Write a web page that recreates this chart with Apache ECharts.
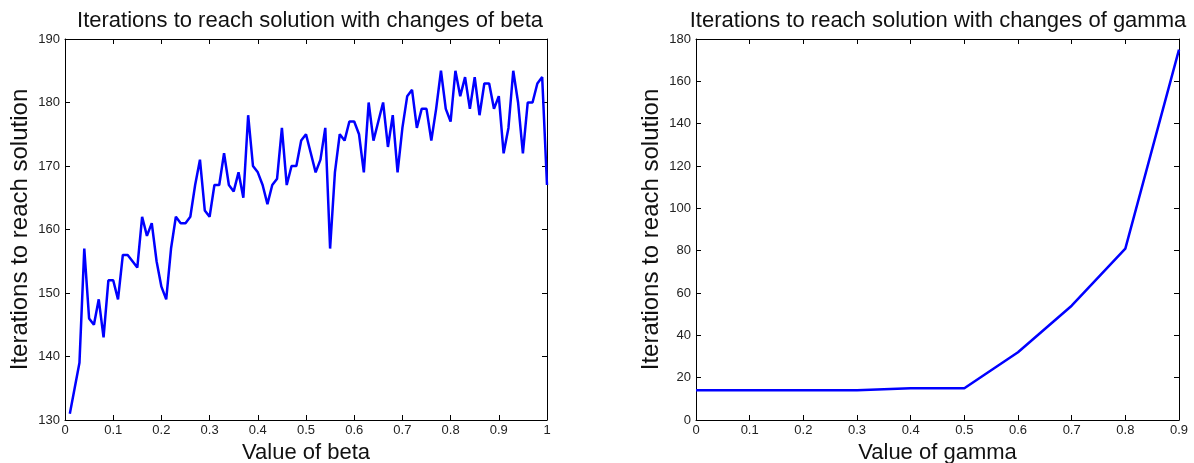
<!DOCTYPE html>
<html>
<head>
<meta charset="utf-8">
<script src="https://cdn.jsdelivr.net/npm/echarts@6/dist/echarts.min.js"></script>
<style>
  html, body { margin: 0; padding: 0; background: #fff; }
  #chart { width: 1194px; height: 463px; }
</style>
</head>
<body>
<div id="chart"></div>
<script>
// beta sweep
const betaValues = [
  0.01, 0.02, 0.03, 0.04, 0.05, 0.06, 0.07, 0.08, 0.09, 0.10,
  0.11, 0.12, 0.13, 0.14, 0.15, 0.16, 0.17, 0.18, 0.19, 0.20,
  0.21, 0.22, 0.23, 0.24, 0.25, 0.26, 0.27, 0.28, 0.29, 0.30,
  0.31, 0.32, 0.33, 0.34, 0.35, 0.36, 0.37, 0.38, 0.39, 0.40,
  0.41, 0.42, 0.43, 0.44, 0.45, 0.46, 0.47, 0.48, 0.49, 0.50,
  0.51, 0.52, 0.53, 0.54, 0.55, 0.56, 0.57, 0.58, 0.59, 0.60,
  0.61, 0.62, 0.63, 0.64, 0.65, 0.66, 0.67, 0.68, 0.69, 0.70,
  0.71, 0.72, 0.73, 0.74, 0.75, 0.76, 0.77, 0.78, 0.79, 0.80,
  0.81, 0.82, 0.83, 0.84, 0.85, 0.86, 0.87, 0.88, 0.89, 0.90,
  0.91, 0.92, 0.93, 0.94, 0.95, 0.96, 0.97, 0.98, 0.99, 1.00
];
const betaIterations = [
  131, 135, 139, 157, 146, 145, 149, 143, 152, 152,
  149, 156, 156, 155, 154, 162, 159, 161, 155, 151,
  149, 157, 162, 161, 161, 162, 167, 171, 163, 162,
  167, 167, 172, 167, 166, 169, 165, 178, 170, 169,
  167, 164, 167, 168, 176, 167, 170, 170, 174, 175,
  172, 169, 171, 176, 157, 169, 175, 174, 177, 177,
  175, 169, 180, 174, 177, 180, 173, 178, 169, 176,
  181, 182, 176, 179, 179, 174, 179, 185, 179, 177,
  185, 181, 184, 179, 184, 178, 183, 183, 179, 181,
  172, 176, 185, 180, 172, 180, 180, 183, 184, 167
];

// gamma sweep
const gammaValues = [0, 0.1, 0.2, 0.3, 0.4, 0.5, 0.6, 0.7, 0.8, 0.9];
const gammaIterations = [14, 14, 14, 14, 15, 15, 32, 54, 81, 175];

const fontFamily = '"Liberation Sans", Arial, sans-serif';
const black = '#000';

function pairs(xs, ys) {
  return xs.map((x, i) => [x, ys[i]]);
}

function tickLabel(v) {
  return String(Math.round(v * 10) / 10);
}

// bottom/left axes carry labels, top/right are mirrored boxes with inside ticks
function xAxes(gridIndex, max, name) {
  const base = {
    type: 'value',
    gridIndex: gridIndex,
    min: 0,
    max: max,
    interval: 0.1,
    splitLine: { show: false },
    axisLine: { show: true, onZero: false, lineStyle: { color: black, width: 1 } },
    axisTick: { show: true, inside: true, length: 5, lineStyle: { color: black } }
  };
  return [
    Object.assign({}, base, {
      position: 'bottom',
      name: name,
      nameLocation: 'middle',
      nameGap: 22,
      nameTextStyle: { fontFamily: fontFamily, fontSize: 22, color: '#111' },
      axisLabel: {
        fontFamily: fontFamily, fontSize: 13, color: '#222', margin: 4,
        formatter: tickLabel
      }
    }),
    Object.assign({}, base, { position: 'top', axisLabel: { show: false } })
  ];
}

function yAxes(gridIndex, min, max, step, nameGap) {
  const base = {
    type: 'value',
    gridIndex: gridIndex,
    min: min,
    max: max,
    interval: step,
    splitLine: { show: false },
    axisLine: { show: true, onZero: false, lineStyle: { color: black, width: 1 } },
    axisTick: { show: true, inside: true, length: 5, lineStyle: { color: black } }
  };
  return [
    Object.assign({}, base, {
      position: 'left',
      name: 'Iterations to reach solution',
      nameLocation: 'middle',
      nameGap: nameGap,
      nameTextStyle: { fontFamily: fontFamily, fontSize: 24, color: '#111' },
      axisLabel: { fontFamily: fontFamily, fontSize: 13, color: '#222', margin: 5 }
    }),
    Object.assign({}, base, { position: 'right', axisLabel: { show: false } })
  ];
}

const chart = echarts.init(document.getElementById('chart'));
chart.setOption({
  backgroundColor: '#fff',
  animation: false,
  title: [
    {
      text: 'Iterations to reach solution with changes of beta',
      left: 305, top: 5, textAlign: 'center',
      textStyle: { fontFamily: fontFamily, fontSize: 22, fontWeight: 'normal', color: '#111' }
    },
    {
      text: 'Iterations to reach solution with changes of gamma',
      left: 933, top: 5, textAlign: 'center',
      textStyle: { fontFamily: fontFamily, fontSize: 22, fontWeight: 'normal', color: '#111' }
    }
  ],
  grid: [
    { left: 65, right: 647, top: 39, bottom: 43, containLabel: false, outerBoundsMode: 'none' },
    { left: 696, right: 15, top: 39, bottom: 43, containLabel: false, outerBoundsMode: 'none' }
  ],
  xAxis: [].concat(xAxes(0, 1, 'Value of beta'), xAxes(1, 0.9, 'Value of gamma')),
  yAxis: [].concat(yAxes(0, 130, 190, 10, 33), yAxes(1, 0, 180, 20, 33)),
  series: [
    {
      type: 'line',
      xAxisIndex: 0,
      yAxisIndex: 0,
      data: pairs(betaValues, betaIterations),
      showSymbol: false,
      lineStyle: { color: '#0000ff', width: 2.5 }
    },
    {
      type: 'line',
      xAxisIndex: 2,
      yAxisIndex: 2,
      data: pairs(gammaValues, gammaIterations),
      showSymbol: false,
      lineStyle: { color: '#0000ff', width: 2.5 }
    }
  ]
});
</script>
</body>
</html>
